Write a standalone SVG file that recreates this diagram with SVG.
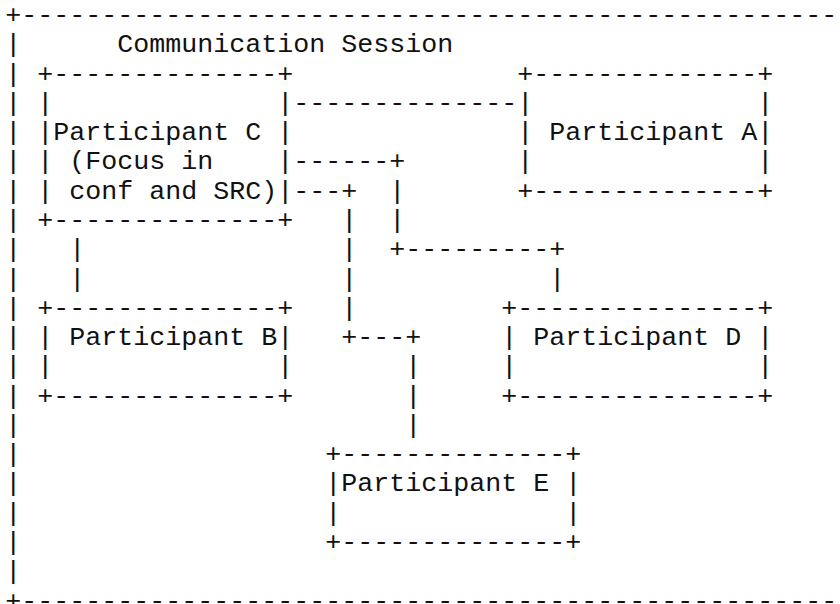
<svg xmlns="http://www.w3.org/2000/svg" width="840" height="604" viewBox="0 0 840 604" xml:space="preserve">
  <style>
    .t { font-family: "Liberation Mono", "Courier New", "DejaVu Sans Mono", monospace; font-size: 26.67px; fill: #111; white-space: pre; }
  </style>
  <rect width="840" height="604" fill="#fff"/>

  <!-- Monospace grid: column c starts at x = 5.33 + 16c, row n baseline at y = 23 + 29.28n -->
  <g transform="translate(0,-1)">

  <!-- Outer frame of the session -->
  <g id="session">
    <text class="t" x="5.33" y="24">+---------------------------------------------------</text>
    <text class="t" x="5.33" y="53.28">|</text>
    <text class="t" x="117.33" y="53.28">Communication Session</text>
    <text class="t" x="5.33" y="82.56">|</text>
    <text class="t" x="5.33" y="111.84">|</text>
    <text class="t" x="5.33" y="141.12">|</text>
    <text class="t" x="5.33" y="170.4">|</text>
    <text class="t" x="5.33" y="199.68">|</text>
    <text class="t" x="5.33" y="228.96">|</text>
    <text class="t" x="5.33" y="258.24">|</text>
    <text class="t" x="5.33" y="287.52">|</text>
    <text class="t" x="5.33" y="316.8">|</text>
    <text class="t" x="5.33" y="346.08">|</text>
    <text class="t" x="5.33" y="375.36">|</text>
    <text class="t" x="5.33" y="404.64">|</text>
    <text class="t" x="5.33" y="433.92">|</text>
    <text class="t" x="5.33" y="463.2">|</text>
    <text class="t" x="5.33" y="492.48">|</text>
    <text class="t" x="5.33" y="521.76">|</text>
    <text class="t" x="5.33" y="551.04">|</text>
    <text class="t" x="5.33" y="580.32">|</text>
    <text class="t" x="5.33" y="609.6">+---------------------------------------------------</text>
  </g>

  <!-- Participant C (focus in conference and SRC) -->
  <g id="participant-c">
    <text class="t" x="37.33" y="82.56">+--------------+</text>
    <text class="t" x="37.33" y="111.84">|              |</text>
    <text class="t" x="37.33" y="141.12">|Participant C |</text>
    <text class="t" x="37.33" y="170.4">| (Focus in    |</text>
    <text class="t" x="37.33" y="199.68">| conf and SRC)|</text>
    <text class="t" x="37.33" y="228.96">+--------------+</text>
  </g>

  <!-- Participant A -->
  <g id="participant-a">
    <text class="t" x="517.33" y="82.56">+--------------+</text>
    <text class="t" x="517.33" y="111.84">|              |</text>
    <text class="t" x="517.33" y="141.12">| Participant A|</text>
    <text class="t" x="517.33" y="170.4">|              |</text>
    <text class="t" x="517.33" y="199.68">+--------------+</text>
  </g>

  <!-- Participant B -->
  <g id="participant-b">
    <text class="t" x="37.33" y="316.8">+--------------+</text>
    <text class="t" x="37.33" y="346.08">| Participant B|</text>
    <text class="t" x="37.33" y="375.36">|              |</text>
    <text class="t" x="37.33" y="404.64">+--------------+</text>
  </g>

  <!-- Participant D -->
  <g id="participant-d">
    <text class="t" x="501.33" y="316.8">+---------------+</text>
    <text class="t" x="501.33" y="346.08">| Participant D |</text>
    <text class="t" x="501.33" y="375.36">|               |</text>
    <text class="t" x="501.33" y="404.64">+---------------+</text>
  </g>

  <!-- Participant E -->
  <g id="participant-e">
    <text class="t" x="325.33" y="463.2">+--------------+</text>
    <text class="t" x="325.33" y="492.48">|Participant E |</text>
    <text class="t" x="325.33" y="521.76">|              |</text>
    <text class="t" x="325.33" y="551.04">+--------------+</text>
  </g>

  <!-- Links between participants -->
  <g id="connectors">
    <!-- C to A -->
    <text class="t" x="293.33" y="111.84">--------------</text>
    <!-- C to D -->
    <text class="t" x="293.33" y="170.4">------+</text>
    <text class="t" x="389.33" y="199.68">|</text>
    <text class="t" x="389.33" y="228.96">|</text>
    <text class="t" x="389.33" y="258.24">+---------+</text>
    <text class="t" x="549.33" y="287.52">|</text>
    <!-- C to E -->
    <text class="t" x="293.33" y="199.68">---+</text>
    <text class="t" x="341.33" y="228.96">|</text>
    <text class="t" x="341.33" y="258.24">|</text>
    <text class="t" x="341.33" y="287.52">|</text>
    <text class="t" x="341.33" y="316.8">|</text>
    <text class="t" x="341.33" y="346.08">+---+</text>
    <text class="t" x="405.33" y="375.36">|</text>
    <text class="t" x="405.33" y="404.64">|</text>
    <text class="t" x="405.33" y="433.92">|</text>
    <!-- C to B -->
    <text class="t" x="69.33" y="258.24">|</text>
    <text class="t" x="69.33" y="287.52">|</text>
  </g>
  </g>
</svg>
